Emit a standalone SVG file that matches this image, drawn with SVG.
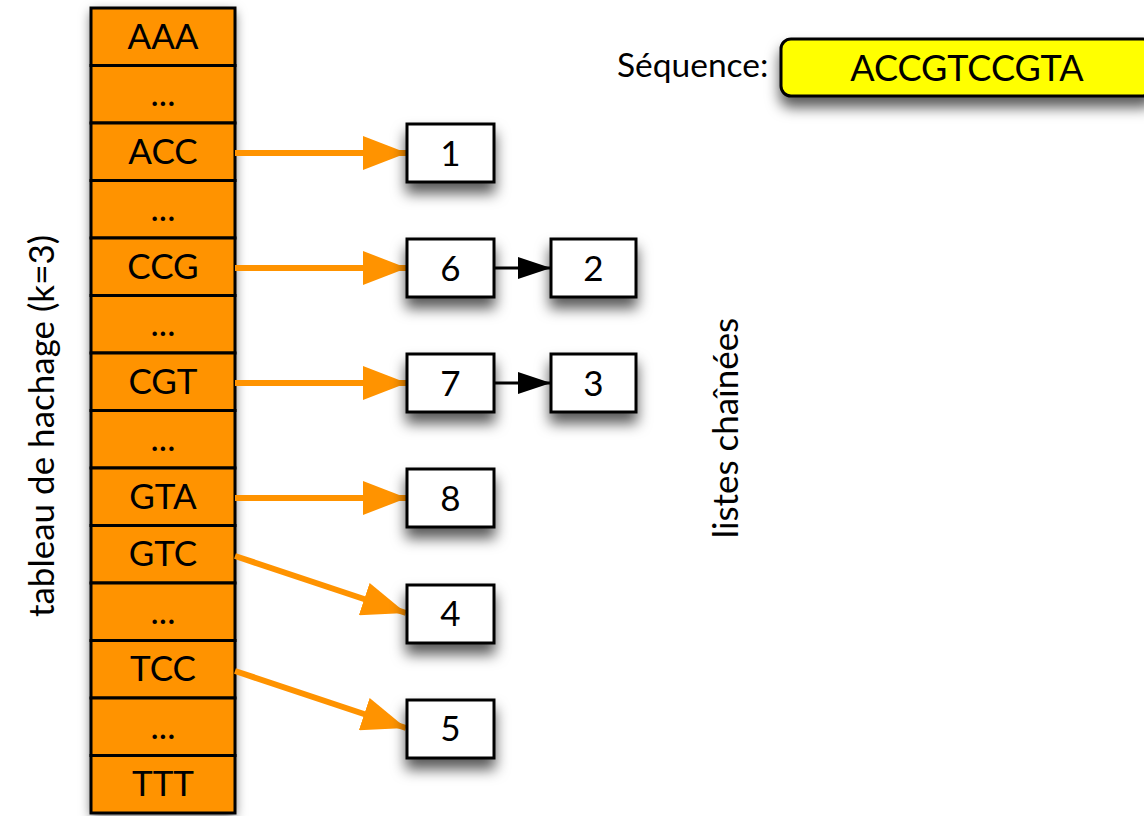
<svg xmlns="http://www.w3.org/2000/svg" width="1144" height="816" viewBox="0 0 1144 816">
<style>
.cell{fill:#FF9300;stroke:#000;stroke-width:3}
.box{fill:#fff;stroke:#000;stroke-width:3}
.t{font-family:Lato,"Open Sans",sans-serif;font-size:35px;fill:#000;text-anchor:middle}
.lbl{font-family:Lato,"Open Sans",sans-serif;font-size:35px;fill:#000}
.oa{stroke:#FF9300;stroke-width:6;fill:none}
.ba{stroke:#000;stroke-width:3;fill:none}
</style>
<defs>
<filter id="sh" x="-30%" y="-30%" width="160%" height="180%">
<feDropShadow dx="0" dy="10" stdDeviation="7" flood-color="#000" flood-opacity="0.65"/>
</filter>
<filter id="sh2" x="-30%" y="-5%" width="160%" height="110%">
<feDropShadow dx="0" dy="4" stdDeviation="6" flood-color="#000" flood-opacity="0.6"/>
</filter>
<marker id="oh" markerUnits="userSpaceOnUse" markerWidth="46" markerHeight="34" refX="44" refY="17" orient="auto">
<path d="M0,0 L44,17 L0,34 Z" fill="#FF9300"/>
</marker>
<marker id="bh" markerUnits="userSpaceOnUse" markerWidth="34" markerHeight="24" refX="33" refY="12" orient="auto">
<path d="M0,1 L33,12 L0,23 Z" fill="#000"/>
</marker>
</defs>
<rect width="1144" height="816" fill="#fff"/>

<g id="table">
<rect x="91" y="8" width="144" height="805" fill="#FF9300" filter="url(#sh2)"/>
<g id="row-AAA"><rect class="cell" x="91" y="8" width="144" height="57.5"/><text class="t" x="163" y="49">AAA</text></g>
<g id="row-dots1"><rect class="cell" x="91" y="65.5" width="144" height="57.5"/><text class="t" x="163" y="106">...</text></g>
<g id="row-ACC"><rect class="cell" x="91" y="123" width="144" height="57.5"/><text class="t" x="163" y="164">ACC</text></g>
<g id="row-dots2"><rect class="cell" x="91" y="180.5" width="144" height="57.5"/><text class="t" x="163" y="221">...</text></g>
<g id="row-CCG"><rect class="cell" x="91" y="238" width="144" height="57.5"/><text class="t" x="163" y="279">CCG</text></g>
<g id="row-dots3"><rect class="cell" x="91" y="295.5" width="144" height="57.5"/><text class="t" x="163" y="336">...</text></g>
<g id="row-CGT"><rect class="cell" x="91" y="353" width="144" height="57.5"/><text class="t" x="163" y="394">CGT</text></g>
<g id="row-dots4"><rect class="cell" x="91" y="410.5" width="144" height="57.5"/><text class="t" x="163" y="451">...</text></g>
<g id="row-GTA"><rect class="cell" x="91" y="468" width="144" height="57.5"/><text class="t" x="163" y="509">GTA</text></g>
<g id="row-GTC"><rect class="cell" x="91" y="525.5" width="144" height="57.5"/><text class="t" x="163" y="566">GTC</text></g>
<g id="row-dots5"><rect class="cell" x="91" y="583" width="144" height="57.5"/><text class="t" x="163" y="624">...</text></g>
<g id="row-TCC"><rect class="cell" x="91" y="640.5" width="144" height="57.5"/><text class="t" x="163" y="681">TCC</text></g>
<g id="row-dots6"><rect class="cell" x="91" y="698" width="144" height="57.5"/><text class="t" x="163" y="739">...</text></g>
<g id="row-TTT"><rect class="cell" x="91" y="755.5" width="144" height="57.5"/><text class="t" x="163" y="796">TTT</text></g>
</g>

<g id="label-table"><text class="lbl" text-anchor="middle" transform="translate(54,426) rotate(-90)">tableau de hachage (k=3)</text></g>
<g id="label-listes"><text class="lbl" text-anchor="middle" transform="translate(738,428) rotate(-90)">listes chaînées</text></g>

<g id="connectors">
<line class="oa" x1="235" y1="153" x2="407" y2="153" marker-end="url(#oh)"/>
<line class="oa" x1="235" y1="268" x2="407" y2="268" marker-end="url(#oh)"/>
<line class="oa" x1="235" y1="383" x2="407" y2="383" marker-end="url(#oh)"/>
<line class="oa" x1="235" y1="498" x2="407" y2="498" marker-end="url(#oh)"/>
<line class="oa" x1="235" y1="556" x2="406" y2="613" marker-end="url(#oh)"/>
<line class="oa" x1="235" y1="671" x2="406" y2="728" marker-end="url(#oh)"/>
<line class="ba" x1="494" y1="268" x2="551" y2="268" marker-end="url(#bh)"/>
<line class="ba" x1="494" y1="383" x2="551" y2="383" marker-end="url(#bh)"/>
</g>

<g id="node-1"><rect class="box" x="407" y="124" width="87" height="58" filter="url(#sh)"/><text class="t" x="450.5" y="166">1</text></g>
<g id="node-6"><rect class="box" x="407" y="239" width="87" height="58" filter="url(#sh)"/><text class="t" x="450.5" y="281">6</text></g>
<g id="node-2"><rect class="box" x="551" y="239" width="85" height="58" filter="url(#sh)"/><text class="t" x="593.5" y="281">2</text></g>
<g id="node-7"><rect class="box" x="407" y="354" width="87" height="58" filter="url(#sh)"/><text class="t" x="450.5" y="396">7</text></g>
<g id="node-3"><rect class="box" x="551" y="354" width="85" height="58" filter="url(#sh)"/><text class="t" x="593.5" y="396">3</text></g>
<g id="node-8"><rect class="box" x="407" y="469" width="87" height="58" filter="url(#sh)"/><text class="t" x="450.5" y="511">8</text></g>
<g id="node-4"><rect class="box" x="407" y="585" width="87" height="58" filter="url(#sh)"/><text class="t" x="450.5" y="626">4</text></g>
<g id="node-5"><rect class="box" x="407" y="700" width="87" height="58" filter="url(#sh)"/><text class="t" x="450.5" y="741">5</text></g>

<g id="sequence">
<text class="lbl" x="617" y="77" style="font-size:33.5px">Séquence:</text>
<rect x="781" y="39" width="372" height="57" rx="10" fill="#FFFF00" stroke="#000" stroke-width="3" filter="url(#sh)"/>
<text class="t" x="967" y="81" style="font-size:36px">ACCGTCCGTA</text>
</g>
</svg>
